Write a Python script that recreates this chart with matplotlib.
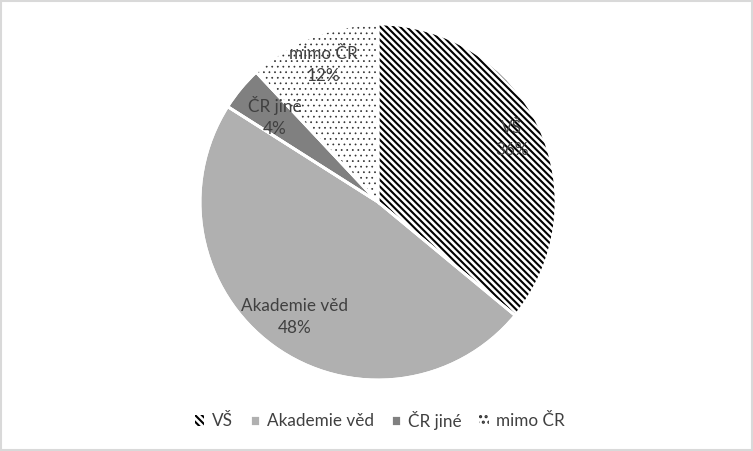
import matplotlib
matplotlib.use("Agg")
import matplotlib.pyplot as plt
import numpy as np
from matplotlib.patches import Rectangle, Wedge

categories = ["VŠ", "Akademie věd", "ČR jiné", "mimo ČR"]
values = [36, 48, 4, 12]

plt.rcParams['font.family'] = ['Lato', 'DejaVu Sans']
plt.rcParams['hatch.linewidth'] = 1.5

fig = plt.figure(figsize=(7.53, 4.51), dpi=100)
ax = fig.add_axes([0, 0, 1, 1])
ax.set_xlim(0, 753)
ax.set_ylim(451, 0)
ax.axis('off')

R = 178
pax = fig.add_axes([(378 - R) / 753, 1 - (202 + R) / 451, 2 * R / 753, 2 * R / 451])

facecolors = ["white", "#b0b0b0", "#808080", "white"]
labels = [f"{c}\n{v}%" for c, v in zip(categories, values)]

wedges, texts = pax.pie(values, startangle=90, counterclock=False,
                        colors=facecolors, labels=labels, labeldistance=0.82,
                        wedgeprops=dict(edgecolor="white", linewidth=2),
                        textprops=dict(color="#404040", fontsize=12.3, ha="center", va="center",
                                       linespacing=1.45))
wedges[0].set_hatch("\\\\\\\\\\")
wedges[0].set_facecolor("white")
wedges[0].set_edgecolor("black")
wedges[0].set_linewidth(0)
wedges[3].set_hatch("...")
wedges[3].set_facecolor("white")
wedges[3].set_edgecolor("#303030")
wedges[3].set_linewidth(0)
if hasattr(wedges[3], "set_hatch_linewidth"):
    wedges[3].set_hatch_linewidth(0.5)
else:
    wedges[3]._hatch_linewidth = 0.5
pax.set_xlim(-1, 1)
pax.set_ylim(-1, 1)
pax.set_aspect('equal')

# label radii tuned per slice
label_r = [0.83, 0.80, 0.75, 0.83]
for w, t, r in zip(wedges, texts, label_r):
    ang = np.deg2rad((w.theta1 + w.theta2) / 2)
    t.set_position((r * np.cos(ang), r * np.sin(ang)))
    t.set_zorder(5)

for w in wedges:
    sep = Wedge(w.center, w.r, w.theta1, w.theta2, facecolor="none", edgecolor="white", linewidth=2)
    pax.add_patch(sep)

leg = fig.legend(wedges, categories, loc="center", bbox_to_anchor=(380 / 753, 1 - 420 / 451),
                 ncol=4, frameon=False, fontsize=12.3, handlelength=0.55, handleheight=0.55,
                 columnspacing=1.0, handletextpad=0.45)
for t in leg.get_texts():
    t.set_color("#404040")

ax.add_patch(Rectangle((1, 1), 751, 449, fill=False, edgecolor="#d9d9d9", linewidth=1.5))

fig.savefig("out.png", dpi=100)
